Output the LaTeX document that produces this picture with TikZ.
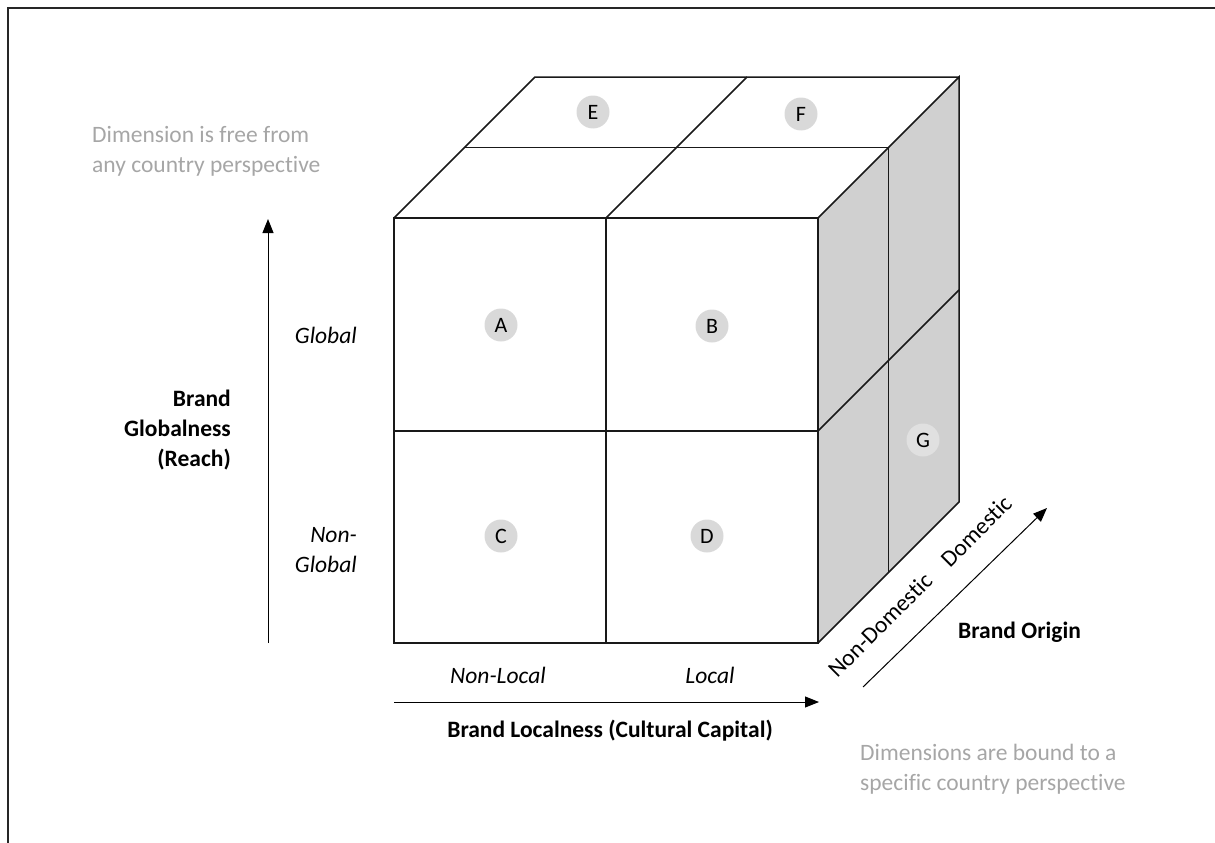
\documentclass[tikz,border=0pt]{standalone}
\usepackage{fontspec}
\setmainfont[Ligatures=NoCommon]{Carlito}
\usetikzlibrary{arrows.meta}
\definecolor{facegray}{RGB}{208,208,208}
\definecolor{dotgray}{RGB}{217,217,217}
\definecolor{dotgrayg}{RGB}{224,224,224}
\definecolor{notegray}{RGB}{166,166,166}
\begin{document}
\begin{tikzpicture}[x=1pt,y=-1pt,
  frameline/.style={draw=black!85, line width=1.6pt},
  edge/.style={draw=black!90, line width=1.5pt, line join=miter},
  axis/.style={draw=black, line width=1pt, -{Triangle[length=14pt,width=11pt]}},
  lbl/.style={font=\fontsize{23.5}{30}\selectfont, inner sep=0pt},
  ital/.style={lbl, font=\fontsize{23.5}{30}\selectfont\itshape},
  bold/.style={lbl, font=\fontsize{23.5}{30}\selectfont\bfseries},
  note/.style={lbl, text=notegray, align=left},
  dot/.style={circle, fill=dotgray, minimum size=33pt, inner sep=0pt, font=\fontsize{22}{26}\selectfont}
]
\useasboundingbox (0,0) rectangle (1215,843);
% frame
\draw[frameline] (8,843) -- (8,8) -- (1215,8);
% right face
\fill[facegray] (818,218) -- (959,77) -- (959,502) -- (818,643) -- cycle;
\draw[edge] (818,218) -- (959,77) -- (959,502) -- (818,643);
\draw[edge] (888.5,147.5) -- (888.5,572.5);
\draw[edge] (818,431) -- (959,290);
% top face
\draw[edge] (394,218) -- (535,77) -- (959,77);
\draw[edge] (464.5,147.5) -- (888.5,147.5);
\draw[edge] (606,218) -- (747,77);
% front face
\draw[edge] (394,218) rectangle (818,643);
\draw[edge] (606,218) -- (606,643);
\draw[edge] (394,431) -- (818,431);
% cells
\node[dot] (A) at (501,325) {A};
\node[dot] (B) at (712,326) {B};
\node[dot] (C) at (501,536) {C};
\node[dot] (D) at (707,536) {D};
\node[dot] (E) at (593,112) {E};
\node[dot] (F) at (801,114) {F};
\node[dot, fill=dotgrayg] (G) at (923,440) {G};
% axes
\coordinate (ga0) at (268,643);
\coordinate (ga1) at (268,219);
\draw[axis] (ga0) -- (ga1);
\coordinate (la0) at (394,702);
\coordinate (la1) at (819,702);
\draw[axis] (la0) -- (la1);
\coordinate (oa0) at (863,687);
\coordinate (oa1) at (1047,508);
\draw[axis] (oa0) -- (oa1);
% labels
\node[ital, anchor=east] (global) at (357,335) {Global};
\node[ital, anchor=east, align=right] (nonglobal) at (357,550) {Non-\\Global};
\node[bold, anchor=east, align=right] (globtitle) at (231,430) {Brand\\Globalness\\(Reach)};
\node[ital] (nonlocal) at (498,675) {Non-Local};
\node[ital] (local) at (710,675) {Local};
\node[bold] (loctitle) at (610,731) {Brand Localness (Cultural Capital)};
\node[bold, anchor=west] (origtitle) at (958,632) {Brand Origin};
\node[lbl, rotate=45] (nondom) at (880,625) {Non-Domestic};
\node[lbl, rotate=45] (dom) at (976,531) {Domestic};
\node[note, anchor=west] (freenote) at (92,151) {Dimension is free from\\any country perspective};
\node[note, anchor=west] (boundnote) at (860,769) {Dimensions are bound to a\\specific country perspective};
\end{tikzpicture}
\end{document}
